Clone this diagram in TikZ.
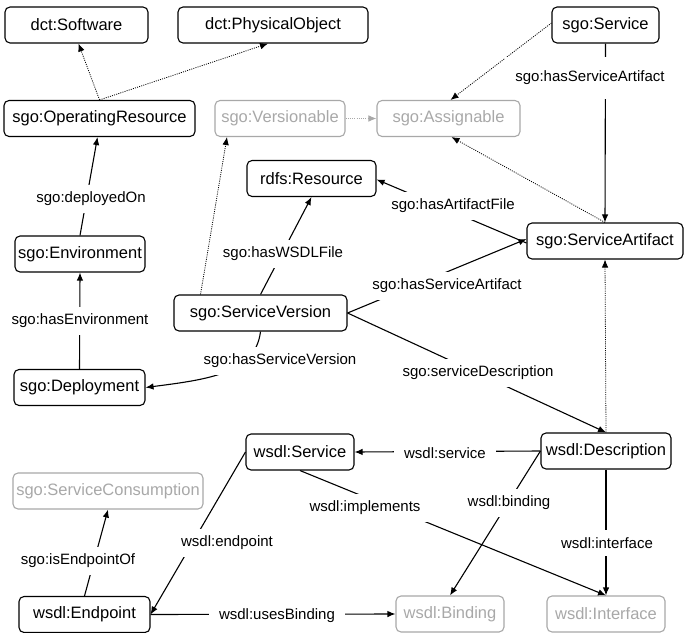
\documentclass[tikz,border=0pt]{standalone}
\usepackage{fontspec}
\setmainfont{Liberation Sans}
\usetikzlibrary{arrows.meta}
\definecolor{faded}{RGB}{168,168,168}
\begin{document}
\begin{tikzpicture}[x=1bp,y=-1bp,
  cls/.style={draw, rounded corners=5bp, line width=1.1bp, minimum height=36bp,
    inner xsep=2bp, inner ysep=0pt, font=\fontsize{16.5bp}{20bp}\selectfont},
  ext/.style={cls, draw=faded, text=faded},
  tip/.style={-{Latex[length=8bp,width=6.5bp]}},
  rel/.style={line width=1.1bp, tip},
  sub/.style={line width=0.8bp, dash pattern=on 1bp off 1.2bp, tip},
  lbl/.style={fill=white, inner xsep=10bp, inner ysep=7bp,
    font=\fontsize{15bp}{18bp}\selectfont}]
\useasboundingbox (0,0) rectangle (684,633);

% classes
\node[cls, minimum width=143bp] (sw)   at (76.5,25)   {dct:Software};
\node[cls, minimum width=190bp] (po)   at (273,25)    {dct:PhysicalObject};
\node[cls, minimum width=107bp] (svc)  at (605.5,25)  {sgo:Service};
\node[cls, minimum width=191bp] (opr)  at (99.5,118.5){sgo:OperatingResource};
\node[ext, minimum width=130bp] (vers) at (280,118.5) {sgo:Versionable};
\node[ext, minimum width=143bp] (asg)  at (448.5,118.5){sgo:Assignable};
\node[cls, minimum width=129bp] (rdfs) at (311.5,178.5){rdfs:Resource};
\node[cls, minimum width=156bp] (sa)   at (605,241)   {sgo:ServiceArtifact};
\node[cls, minimum width=130bp] (env)  at (80,254)    {sgo:Environment};
\node[cls, minimum width=173bp] (sv)   at (260.5,313) {sgo:ServiceVersion};
\node[cls, minimum width=131bp] (dep)  at (79.5,387.5){sgo:Deployment};
\node[cls, minimum width=108bp] (ws)   at (300,452)   {wsdl:Service};
\node[cls, minimum width=130bp] (desc) at (606,451)   {wsdl:Description};
\node[ext, minimum width=190bp] (sc)   at (108,491)   {sgo:ServiceConsumption};
\node[cls, minimum width=131bp] (ep)   at (84.5,614.5){wsdl:Endpoint};
\node[ext, minimum width=108bp] (bind) at (450,614)   {wsdl:Binding};
\node[ext, minimum width=118bp] (intf) at (606,614)   {wsdl:Interface};

% subclass links
\draw[sub] (opr.north) -- ([xshift=2bp]sw.south);
\draw[sub] (opr.north) -- ([xshift=-5bp]po.south);
\draw[sub] ([xshift=-60bp]sv.north) -- ([xshift=-53bp]vers.south);
\draw[sub, draw=faded] (vers.east) -- (asg.west);
\draw[sub] ([yshift=2bp]svc.west) -- ([xshift=2bp]asg.north);
\draw[sub] (sa.north) -- ([xshift=3bp]asg.south);
\draw[sub] (desc.north) -- (sa.south);

% properties
\draw[rel] (env.north) -- ([xshift=-2bp]opr.south);
\draw[rel] (dep.north) -- (env.south);
\draw[rel] (svc.south) -- (sa.north);
\draw[rel] (sv.north) -- (rdfs.south);
\draw[rel] ([yshift=-2bp]sa.west) -- ([yshift=-1bp]rdfs.east);
\draw[rel] (sv.east) -- ([yshift=2bp]sa.west);
\draw[rel] (sv.south) .. controls +(-5,42) and +(62,-8) .. (dep.east);
\draw[rel] (sv.east) -- (desc.north);
\draw[rel] (desc.west) -- (ws.east);
\draw[rel] (desc.west) -- (bind.north);
\draw[rel] (desc.south) -- (intf.north);
\draw[rel] (ws.south) -- (intf.north);
\draw[rel] (ws.west) -- (ep.east);
\draw[rel] (ep.east) -- (bind.west);
\draw[rel] (ep.north) -- (sc.south);

% property labels
\node[lbl, inner ysep=14bp] (l1) at (590,78) {sgo:hasServiceArtifact};
\node[lbl] (l2)  at (91,199)  {sgo:deployedOn};
\node[lbl] (l3)  at (80,321)  {sgo:hasEnvironment};
\node[lbl] (l4)  at (283,254) {sgo:hasWSDLFile};
\node[lbl] (l5)  at (453,206) {sgo:hasArtifactFile};
\node[lbl] (l6)  at (447,286) {sgo:hasServiceArtifact};
\node[lbl] (l7)  at (280,361) {sgo:hasServiceVersion};
\node[lbl] (l8)  at (478,373) {sgo:serviceDescription};
\node[lbl] (l9)  at (445,453) {wsdl:service};
\node[lbl] (l10) at (365,508) {wsdl:implements};
\node[lbl] (l11) at (509,503) {wsdl:binding};
\node[lbl] (l12) at (607,543) {wsdl:interface};
\node[lbl] (l13) at (227,543) {wsdl:endpoint};
\node[lbl] (l14) at (78,561)  {sgo:isEndpointOf};
\node[lbl] (l15) at (277,616) {wsdl:usesBinding};
\end{tikzpicture}
\end{document}
